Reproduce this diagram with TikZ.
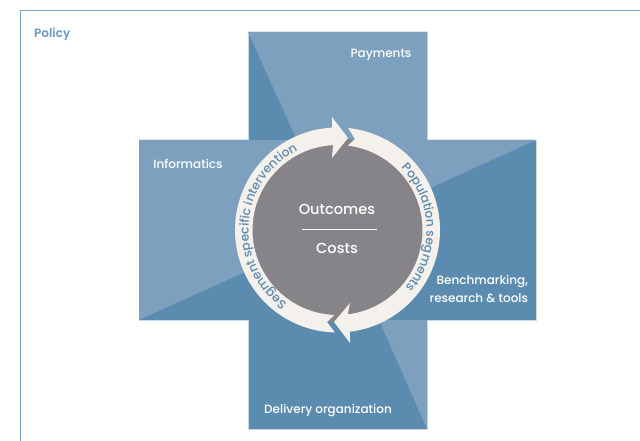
\documentclass[tikz,border=0pt]{standalone}
\usepackage{fontspec}
\setmainfont{Poppins}[UprightFont=* Medium,BoldFont=* SemiBold]
\usetikzlibrary{decorations.text}
\definecolor{lightblue}{HTML}{7DA0BE}
\definecolor{darkblue}{HTML}{5B8BAE}
\definecolor{edgeblue}{HTML}{C9DBE8}
\definecolor{frameblue}{HTML}{7BA3C3}
\definecolor{policyblue}{HTML}{6A9ABD}
\definecolor{cream}{HTML}{F4F0EB}
\definecolor{coregray}{HTML}{868489}
\newcommand{\ringfont}{\fontsize{12.3}{13}\selectfont\color{darkblue}}
\tikzset{
  label/.style={text=white,font=\fontsize{12}{13}\selectfont,inner sep=0pt,outer sep=0pt},
  core/.style={text=white,font=\fontsize{14.6}{16}\selectfont,inner sep=0pt},
  ringarrow/.style={fill=cream,draw=none},
  ringtext/.style={decorate,decoration={text along path,text align=center}}
}
\begin{document}
\begin{tikzpicture}[x=1pt,y=1pt]
\useasboundingbox (0,0) rectangle (640,441);
\fill[white] (0,0) rectangle (640,441);
\draw[frameblue,line width=1pt] (20.5,0) -- (20.5,430) -- (640,430);
% cross
\draw[fill=darkblue,draw=edgeblue,line width=.7pt] (248,409) -- (427,409) -- (427,301) -- (536,301) -- (536,121) -- (427,121) -- (427,12) -- (248,12) -- (248,121) -- (139,121) -- (139,301) -- (248,301) -- cycle;
\coordinate (c) at (337.5,211);
\fill[lightblue] (248,409) -- (427,409) -- (427,301) -- (536,301) -- (c) -- cycle;
\fill[lightblue] (139,301) -- (296,301) -- (c) -- (139,121) -- cycle;
\fill[lightblue] (427,12) -- (427,121) -- (379,121) -- cycle;
% ring
\begin{scope}[shift={(c)}]
\fill[coregray] (0,0) circle[radius=92];
\fill[ringarrow] (268.6:102.5) arc[start angle=268.6,end angle=93,radius=102.5] -- (-5.5,113) -- (10.5,92) -- (-5.5,72) -- (93:85) arc[start angle=93,end angle=268,radius=85] -- (-10.5,-92) -- cycle;
\fill[ringarrow] (84:102.5) arc[start angle=84,end angle=-83,radius=102.5] -- (12.5,-113) -- (-3.5,-92) -- (12.5,-73) -- (-83:85) arc[start angle=-83,end angle=83,radius=85] -- (17.5,91) -- cycle;
\path[ringtext,decoration={text={|\ringfont|Population segments}}] (72:89) arc[start angle=72,end angle=-68,radius=89];
\path[ringtext,decoration={text={|\ringfont|Segment specific intervention}}] (256:89) arc[start angle=256,end angle=96,radius=89];
\end{scope}
% texts
\node[text=policyblue,font=\fontsize{12}{13}\selectfont\bfseries,anchor=west,inner sep=0pt] (policy) at (34,407) {Policy};
\node[label] (payments) at (381,386) {Payments};
\node[label] (informatics) at (188,277) {Informatics};
\node[label,align=right,anchor=east] (bench) at (528,152) {Benchmarking,\\[5pt]research \& tools};
\node[label] (delivery) at (328,30) {Delivery organization};
\node[core] (outcomes) at (337,232) {Outcomes};
\node[core] (costs) at (337,193) {Costs};
\coordinate (ruleL) at (302,212);
\coordinate (ruleR) at (377,212);
\draw[white,line width=.8pt] (ruleL) -- (ruleR);
\end{tikzpicture}
\end{document}
